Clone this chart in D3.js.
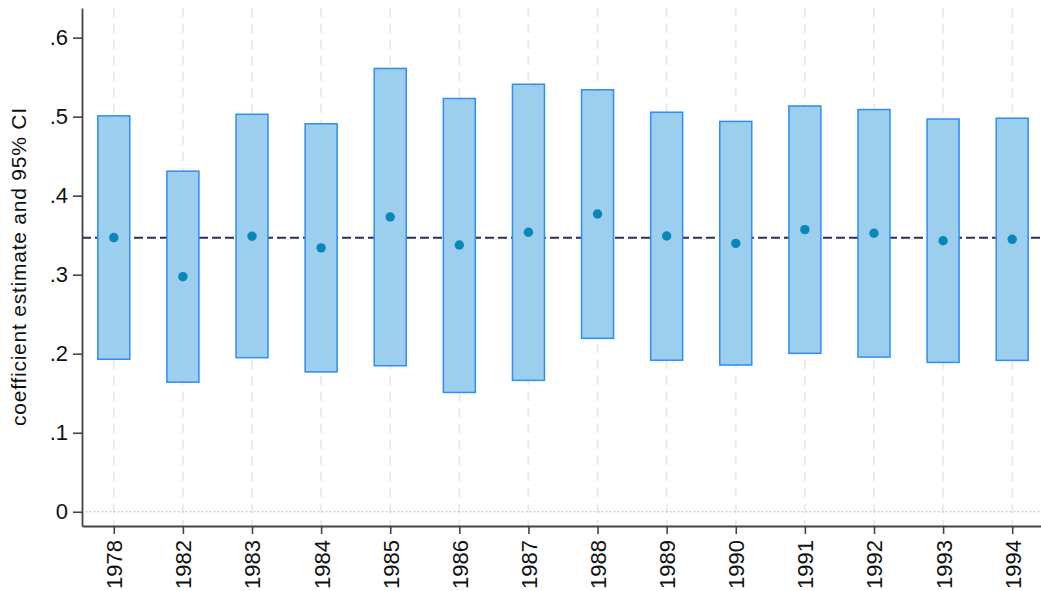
<!DOCTYPE html>
<html>
<head>
<meta charset="utf-8">
<script src="https://cdn.jsdelivr.net/npm/d3@7"></script>
<style>
  html, body { margin: 0; padding: 0; background: #fff; }
  svg { display: block; font-family: "Liberation Sans", Arial, Helvetica, sans-serif; }
</style>
</head>
<body>
<svg id="chart" width="1041" height="591"></svg>
<script>
// Cohort coefficients with 95% confidence intervals
const years = ["1978", "1982", "1983", "1984", "1985", "1986", "1987",
               "1988", "1989", "1990", "1991", "1992", "1993", "1994"];
const coef  = [0.347, 0.2975, 0.3486, 0.334, 0.373, 0.3376, 0.3537,
               0.3768, 0.349, 0.3397, 0.357, 0.3524, 0.343, 0.3448];
const lower = [0.193, 0.164, 0.195, 0.177, 0.1848, 0.151, 0.1663,
               0.2195, 0.1918, 0.1857, 0.2005, 0.1958, 0.189, 0.1916];
const upper = [0.501, 0.431, 0.503, 0.491, 0.561, 0.523, 0.541,
               0.534, 0.5056, 0.494, 0.5135, 0.509, 0.497, 0.498];
const yTicks = [0, 0.1, 0.2, 0.3, 0.4, 0.5, 0.6];
const yTitle = "coefficient estimate and 95% CI";

const rows = years.map((yr, i) => ({ yr, b: coef[i], lo: lower[i], hi: upper[i] }));
const meanCoef = d3.mean(coef);

const svg = d3.select("#chart");
const plotL = 82, plotR = 1044, plotT = 8, plotB = 526;

const x = d3.scalePoint().domain(years).range([plotL, plotR]).padding(0.46);
const y = d3.scaleLinear().domain([-0.018, 0.6375]).range([plotB, plotT]);

// vertical grid lines at each category
svg.append("g").selectAll("line").data(years).join("line")
  .attr("x1", d => x(d)).attr("x2", d => x(d))
  .attr("y1", plotT).attr("y2", plotB)
  .attr("stroke", "#ebebeb").attr("stroke-width", 2)
  .attr("stroke-dasharray", "9,7");

// zero line
svg.append("line")
  .attr("x1", plotL).attr("x2", plotR)
  .attr("y1", y(0)).attr("y2", y(0))
  .attr("stroke", "#9a9a9a").attr("stroke-width", 1)
  .attr("stroke-dasharray", "1.2,2.8");

// mean coefficient reference line
svg.append("line")
  .attr("x1", plotL).attr("x2", plotR)
  .attr("y1", y(meanCoef)).attr("y2", y(meanCoef))
  .attr("stroke", "#26305a").attr("stroke-width", 2)
  .attr("stroke-dasharray", "9,4");

// confidence interval boxes
const boxW = 32;
svg.append("g").selectAll("rect").data(rows).join("rect")
  .attr("x", d => x(d.yr) - boxW / 2)
  .attr("width", boxW)
  .attr("y", d => y(d.hi))
  .attr("height", d => y(d.lo) - y(d.hi))
  .attr("fill", "#9ccfed")
  .attr("stroke", "#2f8df3")
  .attr("stroke-width", 1.5);

// point estimates
svg.append("g").selectAll("circle").data(rows).join("circle")
  .attr("cx", d => x(d.yr))
  .attr("cy", d => y(d.b))
  .attr("r", 4.7)
  .attr("fill", "#0887ba");

// y axis
const fmt = d => d === 0 ? "0" : d3.format(".1f")(d).replace(/^0/, "");
const yAxis = svg.append("g")
  .attr("transform", `translate(${plotL},0)`)
  .call(d3.axisLeft(y).tickValues(yTicks).tickFormat(fmt).tickSize(9).tickSizeOuter(0).tickPadding(5));
yAxis.select(".domain").attr("stroke", "#444").attr("stroke-width", 1.8);
yAxis.selectAll(".tick line").attr("stroke", "#444").attr("stroke-width", 1.6);
yAxis.selectAll(".tick text").attr("font-size", 22).attr("fill", "#111")
  .attr("font-family", "Liberation Sans, Arial, sans-serif");

// x axis
const xAxis = svg.append("g")
  .attr("transform", `translate(0,${plotB})`)
  .call(d3.axisBottom(x).tickSize(8).tickSizeOuter(0));
xAxis.select(".domain").attr("stroke", "#444").attr("stroke-width", 1.8);
xAxis.selectAll(".tick line").attr("stroke", "#444").attr("stroke-width", 1.6);
xAxis.selectAll(".tick text")
  .attr("font-size", 22).attr("fill", "#111")
  .attr("font-family", "Liberation Sans, Arial, sans-serif")
  .attr("transform", "rotate(-90)")
  .attr("text-anchor", "end")
  .attr("x", -14).attr("y", 0).attr("dy", "0.36em");

// y axis title
svg.append("text")
  .attr("transform", `translate(26,${(plotT + plotB) / 2}) rotate(-90)`)
  .attr("text-anchor", "middle")
  .attr("font-size", 21)
  .attr("fill", "#111")
  .attr("textLength", 318)
  .attr("lengthAdjust", "spacing")
  .text(yTitle);
</script>
</body>
</html>
